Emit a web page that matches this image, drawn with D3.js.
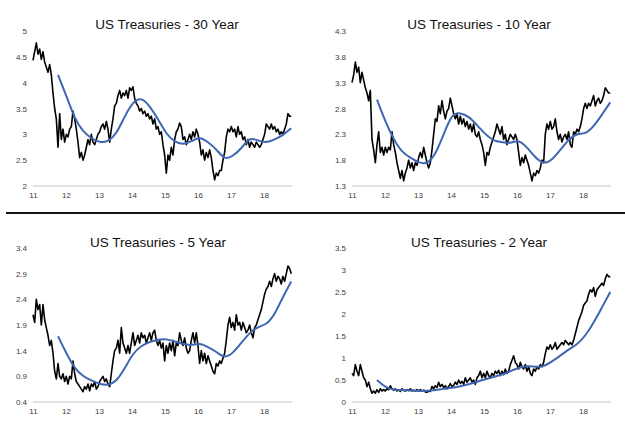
<!DOCTYPE html>
<html>
<head>
<meta charset="utf-8">
<script src="https://cdn.jsdelivr.net/npm/d3@7"></script>
<style>
  body { margin: 0; background: #fff; }
  svg { display: block; font-family: "Liberation Sans", Arial, sans-serif; }
</style>
</head>
<body>
<div id="charts"></div>
<script>
//DATA - one sample every 5/99 of a year starting Jan 2011 (about 18 days)
var yearTicks = [2011, 2012, 2013, 2014, 2015, 2016, 2017, 2018];

var yield30 = [4.43,4.6,4.77,4.55,4.65,4.45,4.6,4.4,4.3,4.2,4.35,4.15,3.8,3.5,3.3,2.75,3.4,2.9,3.1,2.85,
  3.0,2.95,3.1,3.15,3.45,3.3,3.1,2.85,2.55,2.65,2.5,2.6,2.75,2.9,2.8,3.0,2.85,2.8,2.9,3.0,
  3.05,3.15,3.2,3.1,3.25,3.1,2.85,3.1,3.3,3.55,3.6,3.75,3.85,3.7,3.8,3.75,3.85,3.7,3.9,3.85,
  3.92,3.7,3.6,3.55,3.45,3.5,3.4,3.45,3.35,3.4,3.3,3.35,3.2,3.3,3.1,3.15,3.0,3.05,2.8,2.6,
  2.25,2.6,2.5,2.75,2.6,2.9,3.05,3.1,3.22,3.15,2.9,2.95,2.8,2.9,3.0,2.9,3.05,2.95,3.1,3.0,
  2.85,2.6,2.7,2.5,2.65,2.55,2.7,2.55,2.3,2.12,2.25,2.2,2.3,2.3,2.5,2.65,2.95,3.1,3.05,3.15,
  3.05,3.1,2.95,3.15,3.0,3.05,2.9,2.95,2.8,2.9,2.75,2.85,2.8,2.75,2.85,2.8,2.75,2.8,2.9,3.0,
  3.2,3.15,3.1,3.2,3.1,3.15,3.05,3.1,3.0,3.05,3.0,3.1,3.2,3.4,3.35,3.35];

var yield10 = [3.3,3.45,3.7,3.5,3.6,3.3,3.5,3.35,3.2,3.1,2.95,3.15,2.2,2.0,1.75,2.1,2.35,1.95,2.05,1.9,
  2.05,1.95,2.05,2.0,2.35,2.1,1.95,1.75,1.6,1.45,1.6,1.4,1.55,1.65,1.8,1.65,1.75,1.6,1.75,1.7,
  1.85,1.95,1.85,2.05,1.9,1.75,1.65,1.75,2.0,2.3,2.6,2.55,2.85,2.7,2.95,2.75,2.6,2.75,2.8,3.0,
  2.85,2.7,2.6,2.7,2.5,2.65,2.5,2.6,2.45,2.55,2.4,2.5,2.35,2.5,2.3,2.25,2.35,2.2,2.1,1.95,
  1.7,1.95,1.9,2.05,2.15,2.25,2.35,2.5,2.4,2.3,2.45,2.2,2.3,2.1,2.2,2.3,2.25,2.2,2.3,2.2,
  1.95,1.7,1.85,1.75,1.9,1.8,1.7,1.55,1.4,1.55,1.5,1.6,1.55,1.65,1.8,1.75,2.3,2.5,2.4,2.55,
  2.4,2.45,2.6,2.35,2.2,2.3,2.15,2.25,2.3,2.2,2.35,2.1,2.05,2.35,2.3,2.4,2.35,2.45,2.6,2.8,
  2.9,2.8,2.9,2.85,2.95,3.05,2.85,2.95,3.0,2.9,2.95,3.05,3.2,3.15,3.1,3.1];

var yield5 = [2.1,1.95,2.4,2.2,2.3,1.9,2.3,2.0,1.85,1.7,1.5,1.6,1.35,1.0,0.85,1.15,0.9,0.85,0.95,0.8,
  0.9,0.75,0.9,0.85,1.2,0.95,0.8,0.75,0.7,0.65,0.6,0.7,0.65,0.75,0.62,0.75,0.7,0.8,0.65,0.7,
  0.8,0.85,0.9,0.8,0.85,0.75,0.7,0.95,1.2,1.4,1.45,1.6,1.35,1.85,1.55,1.45,1.35,1.5,1.35,1.55,
  1.75,1.5,1.6,1.7,1.55,1.75,1.65,1.7,1.55,1.65,1.75,1.6,1.75,1.8,1.6,1.5,1.6,1.45,1.55,1.2,
  1.5,1.35,1.55,1.4,1.6,1.3,1.55,1.5,1.75,1.6,1.5,1.65,1.45,1.35,1.4,1.6,1.75,1.55,1.75,1.5,
  1.15,1.4,1.2,1.35,1.15,1.3,1.2,1.1,1.0,0.95,1.15,1.1,1.2,1.15,1.25,1.35,1.6,1.9,2.05,1.85,
  1.95,1.8,2.1,1.9,1.95,1.8,1.95,1.85,1.75,1.8,1.9,1.75,1.65,1.85,1.9,2.0,2.1,2.2,2.35,2.5,
  2.6,2.65,2.75,2.65,2.8,2.9,2.75,2.85,2.8,2.7,2.85,2.75,2.9,3.05,3.0,2.9];

var yield2 = [0.65,0.6,0.85,0.7,0.6,0.85,0.7,0.55,0.5,0.35,0.45,0.3,0.2,0.25,0.2,0.28,0.22,0.3,0.25,0.28,
  0.25,0.3,0.28,0.37,0.3,0.27,0.3,0.25,0.28,0.24,0.3,0.26,0.25,0.28,0.26,0.3,0.25,0.27,0.25,0.28,
  0.25,0.28,0.25,0.27,0.23,0.22,0.25,0.24,0.35,0.3,0.37,0.33,0.45,0.35,0.4,0.33,0.37,0.3,0.35,0.42,
  0.35,0.38,0.45,0.4,0.5,0.42,0.47,0.4,0.55,0.45,0.5,0.55,0.45,0.5,0.4,0.55,0.6,0.7,0.55,0.65,
  0.55,0.7,0.6,0.55,0.65,0.6,0.7,0.65,0.72,0.6,0.7,0.62,0.75,0.65,0.7,0.85,0.95,1.05,0.9,0.85,
  0.75,0.9,0.8,0.75,0.85,0.7,0.8,0.65,0.6,0.75,0.7,0.8,0.75,0.85,0.8,0.9,1.1,1.25,1.2,1.3,
  1.2,1.25,1.35,1.2,1.25,1.3,1.35,1.3,1.4,1.35,1.3,1.35,1.3,1.4,1.55,1.7,1.85,1.95,2.05,2.2,
  2.25,2.3,2.45,2.55,2.5,2.6,2.4,2.55,2.6,2.65,2.7,2.65,2.8,2.9,2.85,2.85];

//MOVING AVERAGES - one point every 5 samples, starting at sample 15
var ma30 = [4.15,3.75,3.3,3.05,2.92,2.84,2.86,3.0,3.35,3.63,3.72,3.55,3.3,3.0,2.85,2.8,2.86,2.96,2.85,2.72,
  2.5,2.58,2.72,2.95,2.88,2.83,2.9,2.98,3.12];
var ma10 = [2.97,2.55,2.2,1.95,1.85,1.75,1.72,1.9,2.3,2.7,2.72,2.65,2.48,2.3,2.17,2.15,2.12,2.2,2.05,1.85,
  1.72,1.8,2.0,2.2,2.32,2.3,2.45,2.68,2.92];
var ma5 = [1.68,1.35,1.05,0.9,0.82,0.75,0.72,0.8,1.05,1.35,1.5,1.57,1.62,1.63,1.58,1.53,1.5,1.55,1.47,1.38,
  1.25,1.35,1.55,1.75,1.87,1.9,2.1,2.45,2.75];
var ma2 = [0.5,0.33,0.28,0.27,0.26,0.25,0.25,0.27,0.3,0.32,0.36,0.4,0.46,0.52,0.57,0.62,0.7,0.78,0.82,0.8,
  0.8,0.92,1.05,1.2,1.3,1.5,1.8,2.15,2.5];

var step = 5 / 99;
var maOffset = 15;

var svg = d3.select("#charts").append("svg")
  .attr("width", 625)
  .attr("height", 424);

//PANELS
var panels = [
  {title: "US Treasuries - 30 Year", series: yield30, ma: ma30, yTicks: [2, 2.5, 3, 3.5, 4, 4.5, 5],
   left: 33, base: 186, height: 155, titleX: 167, titleY: 29},
  {title: "US Treasuries - 10 Year", series: yield10, ma: ma10, yTicks: [1.3, 1.8, 2.3, 2.8, 3.3, 3.8, 4.3],
   left: 352, base: 186, height: 155, titleX: 479, titleY: 29},
  {title: "US Treasuries - 5 Year", series: yield5, ma: ma5, yTicks: [0.4, 0.9, 1.4, 1.9, 2.4, 2.9, 3.4],
   left: 33, base: 402, height: 154, titleX: 158, titleY: 247},
  {title: "US Treasuries - 2 Year", series: yield2, ma: ma2, yTicks: [0, 0.5, 1, 1.5, 2, 2.5, 3, 3.5],
   left: 352, base: 402, height: 154, titleX: 479, titleY: 247}
];

var plotWidth = 259;

panels.forEach(function(p) {
  var g = svg.append("g");

  var x = d3.scaleLinear()
    .domain([2011, 2018.85])
    .range([p.left, p.left + plotWidth]);

  var y = d3.scaleLinear()
    .domain([p.yTicks[0], p.yTicks[p.yTicks.length - 1]])
    .range([p.base, p.base - p.height]);

  //Y LABELS
  var yAxis = d3.axisLeft(y)
    .tickValues(p.yTicks)
    .tickSize(0)
    .tickPadding(0)
    .tickFormat(d3.format("~g"));

  var ya = g.append("g")
    .attr("transform", `translate(${p.left - 6}, 0)`)
    .call(yAxis);
  ya.select(".domain").remove();
  ya.selectAll("text")
    .attr("fill", "#404040")
    .style("font-size", "8px")
    .style("font-family", "Liberation Sans, Arial, sans-serif");

  //X LABELS
  var xAxis = d3.axisBottom(x)
    .tickValues(yearTicks)
    .tickSize(0)
    .tickPadding(0)
    .tickFormat(function(d) { return String(d).slice(2); });

  var xa = g.append("g")
    .attr("transform", `translate(0, ${p.base + 6})`)
    .call(xAxis);
  xa.select(".domain").remove();
  xa.selectAll("text")
    .attr("fill", "#404040")
    .style("font-size", "8px")
    .style("font-family", "Liberation Sans, Arial, sans-serif");

  //BASELINE
  g.append("line")
    .attr("x1", x(2011))
    .attr("x2", x(2018.85))
    .attr("y1", y(p.yTicks[0]))
    .attr("y2", y(p.yTicks[0]))
    .attr("stroke", "#d9d9d9")
    .attr("stroke-width", 1.5);

  //DAILY YIELD
  var line = d3.line()
    .x(function(d, i) { return x(2011 + i * step); })
    .y(function(d) { return y(d); });

  g.append("path")
    .datum(p.series)
    .attr("d", line)
    .attr("fill", "none")
    .attr("stroke", "#000")
    .attr("stroke-width", 1.6)
    .attr("stroke-linejoin", "round");

  //MOVING AVERAGE
  var maLine = d3.line()
    .curve(d3.curveBasis)
    .x(function(d, i) { return x(2011 + (maOffset + i * 5) * step); })
    .y(function(d) { return y(d); });

  g.append("path")
    .datum(p.ma)
    .attr("d", maLine)
    .attr("fill", "none")
    .attr("stroke", "#3f66b3")
    .attr("stroke-width", 2);

  //TITLE
  g.append("text")
    .attr("x", p.titleX)
    .attr("y", p.titleY)
    .attr("text-anchor", "middle")
    .style("font-size", "13.5px")
    .attr("fill", "#111")
    .text(p.title);
});

//DIVIDER
svg.append("line")
  .attr("x1", 6)
  .attr("x2", 625)
  .attr("y1", 213)
  .attr("y2", 213)
  .attr("stroke", "#111")
  .attr("stroke-width", 2);
</script>
</body>
</html>
